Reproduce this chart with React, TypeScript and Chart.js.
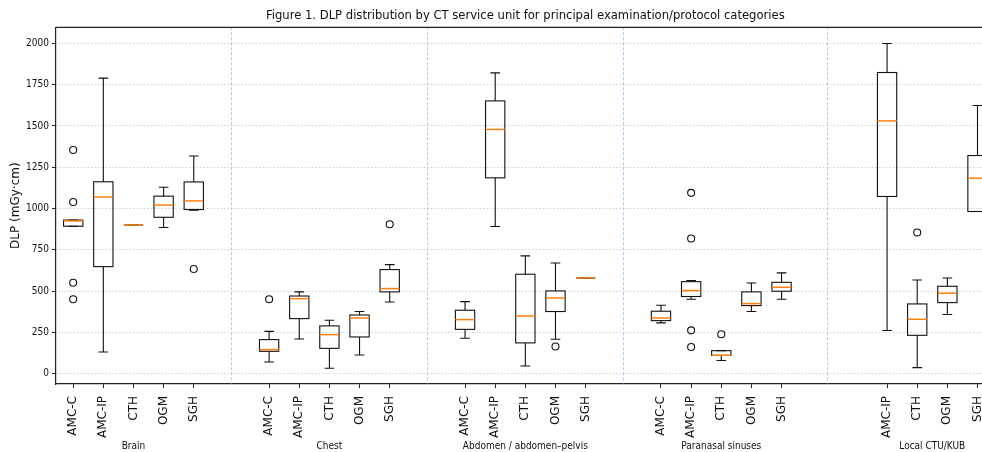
import React, { useEffect, useRef } from "react";
import { Chart, registerables } from "chart.js";

Chart.register(...registerables);

const TITLE =
  "Figure 1. DLP distribution by CT service unit for principal examination/protocol categories";
const Y_TITLE = "DLP (mGy·cm)";
const GROUPS = ["Brain", "Chest", "Abdomen / abdomen–pelvis", "Paranasal sinuses", "Local CTU/KUB"];
const UNITS = ["AMC-C", "AMC-IP", "CTH", "OGM", "SGH"];

// one entry per box
const BOX_GROUP = [0, 0, 0, 0, 0, 1, 1, 1, 1, 1, 2, 2, 2, 2, 2, 3, 3, 3, 3, 3, 4, 4, 4, 4];
const BOX_UNIT = [0, 1, 2, 3, 4, 0, 1, 2, 3, 4, 0, 1, 2, 3, 4, 0, 1, 2, 3, 4, 1, 2, 3, 4];
const WHISKER_LO = [893, 131, 900, 885, 990, 70, 210, 32, 113, 434, 214, 891, 46, 208, 580, 307, 450, 79, 376, 450, 261, 36, 358, 982];
const Q1 = [893, 648, 900, 947, 994, 135, 333, 153, 222, 495, 268, 1186, 186, 376, 580, 321, 467, 110, 412, 499, 1073, 232, 430, 982];
const MEDIAN = [925, 1070, 900, 1021, 1046, 145, 454, 236, 337, 515, 327, 1479, 349, 458, 580, 337, 503, 111, 424, 523, 1531, 329, 487, 1184];
const Q3 = [930, 1162, 900, 1075, 1161, 206, 470, 289, 355, 630, 384, 1652, 602, 501, 580, 378, 557, 139, 495, 553, 1824, 422, 529, 1321];
const WHISKER_HI = [930, 1790, 900, 1129, 1318, 256, 495, 323, 376, 660, 436, 1822, 713, 670, 580, 414, 564, 139, 549, 610, 2000, 567, 579, 1624];
const OUTLIERS: number[][] = [
  [1355, 1040, 550, 450], [], [], [], [634],
  [450], [], [], [], [905],
  [], [], [], [164], [],
  [], [1095, 818, 262, 161], [238], [], [],
  [], [855], [], [],
];

const Y_TICKS = [0, 250, 500, 750, 1000, 1250, 1500, 1750, 2000];
const Y_MIN = -63;
const Y_MAX = 2098;
const GROUP_STEP = 6.5;
const DIVIDERS = [5.25, 11.75, 18.25, 25.0];
const X_MIN = -0.57;
const X_MAX = 30.57;

const POSITIONS = BOX_GROUP.map((g, i) => g * GROUP_STEP + BOX_UNIT[i]);

const COND = '"DejaVu Sans Condensed", "DejaVu Sans", sans-serif';
const NORMAL = '"DejaVu Sans", sans-serif';

const boxPlugin = {
  id: "boxplotDraw",
  beforeDatasetsDraw(chart: any) {
    const { ctx, chartArea, scales } = chart;
    const xs = scales.x;
    ctx.save();
    ctx.strokeStyle = "rgba(110,170,220,0.75)";
    ctx.lineWidth = 0.8;
    ctx.setLineDash([3, 2]);
    DIVIDERS.forEach((d) => {
      const px = Math.round(xs.getPixelForValue(d)) + 0.5;
      ctx.beginPath();
      ctx.moveTo(px, chartArea.top);
      ctx.lineTo(px, chartArea.bottom);
      ctx.stroke();
    });
    ctx.restore();
  },
  afterDatasetsDraw(chart: any) {
    const { ctx, scales } = chart;
    const xs = scales.x;
    const ys = scales.y;
    const half = 0.32;
    const cap = 0.16;
    ctx.save();
    ctx.setLineDash([]);
    POSITIONS.forEach((pos, i) => {
      const xc = xs.getPixelForValue(pos);
      const xl = xs.getPixelForValue(pos - half);
      const xr = xs.getPixelForValue(pos + half);
      const cl = xs.getPixelForValue(pos - cap);
      const cr = xs.getPixelForValue(pos + cap);
      const yLo = ys.getPixelForValue(WHISKER_LO[i]);
      const yQ1 = ys.getPixelForValue(Q1[i]);
      const yMed = ys.getPixelForValue(MEDIAN[i]);
      const yQ3 = ys.getPixelForValue(Q3[i]);
      const yHi = ys.getPixelForValue(WHISKER_HI[i]);
      ctx.strokeStyle = "#111";
      ctx.lineWidth = 1.1;
      ctx.beginPath();
      ctx.moveTo(xc, yQ1);
      ctx.lineTo(xc, yLo);
      ctx.moveTo(xc, yQ3);
      ctx.lineTo(xc, yHi);
      ctx.moveTo(cl, yLo);
      ctx.lineTo(cr, yLo);
      ctx.moveTo(cl, yHi);
      ctx.lineTo(cr, yHi);
      ctx.stroke();
      ctx.strokeRect(xl, yQ3, xr - xl, yQ1 - yQ3);
      ctx.strokeStyle = "#ff7f0e";
      ctx.lineWidth = 1.5;
      ctx.beginPath();
      ctx.moveTo(xl, yMed);
      ctx.lineTo(xr, yMed);
      ctx.stroke();
    });
    ctx.restore();
  },
  afterDraw(chart: any) {
    const { ctx, chartArea, scales } = chart;
    const xs = scales.x;
    ctx.save();
    ctx.strokeStyle = "#222";
    ctx.lineWidth = 1.2;
    ctx.beginPath();
    ctx.moveTo(chartArea.left, chartArea.top);
    ctx.lineTo(chartArea.right, chartArea.top);
    ctx.stroke();
    ctx.fillStyle = "#111";
    ctx.font = `10px ${COND}`;
    ctx.textAlign = "center";
    ctx.textBaseline = "middle";
    GROUPS.forEach((g, gi) => {
      const ps = POSITIONS.filter((_, i) => BOX_GROUP[i] === gi);
      const mid = (Math.min(...ps) + Math.max(...ps)) / 2;
      ctx.fillText(g, xs.getPixelForValue(mid), 446);
    });
    ctx.restore();
  },
};

export default function App() {
  const ref = useRef<HTMLCanvasElement>(null);
  useEffect(() => {
    document.body.style.margin = "0";
    const points: { x: number; y: number }[] = [];
    OUTLIERS.forEach((arr, i) => arr.forEach((v) => points.push({ x: POSITIONS[i], y: v })));
    const chart = new Chart(ref.current as HTMLCanvasElement, {
      type: "scatter",
      data: {
        datasets: [
          {
            data: points,
            pointRadius: 3.5,
            pointHoverRadius: 3.5,
            pointStyle: "circle",
            borderColor: "#111",
            backgroundColor: "rgba(0,0,0,0)",
            borderWidth: 1.1,
          },
        ],
      },
      options: {
        animation: false,
        responsive: false,
        events: [],
        layout: { padding: { left: 0, right: 5, top: 0, bottom: 0 } },
        plugins: {
          legend: { display: false },
          tooltip: { enabled: false },
          title: {
            display: true,
            fullSize: false,
            text: TITLE,
            color: "#111",
            font: { family: COND, size: 12.9, weight: "normal" },
            padding: { top: 8, bottom: 3.8 },
          },
        },
        scales: {
          x: {
            type: "linear",
            min: X_MIN,
            max: X_MAX,
            afterBuildTicks: (s: any) => {
              s.ticks = POSITIONS.map((v) => ({ value: v }));
            },
            afterFit: (s: any) => {
              s.height = 68;
            },
            ticks: {
              autoSkip: false,
              minRotation: 90,
              maxRotation: 90,
              padding: 8,
              color: "#111",
              font: { family: NORMAL, size: 12 },
              callback: (_v: any, i: number) => UNITS[BOX_UNIT[i]],
            },
            grid: { drawOnChartArea: false, tickLength: 4, tickColor: "#222", tickWidth: 1 },
            border: { color: "#222", width: 1.2 },
          },
          y: {
            type: "linear",
            min: Y_MIN,
            max: Y_MAX,
            afterBuildTicks: (s: any) => {
              s.ticks = Y_TICKS.map((v) => ({ value: v }));
            },
            afterFit: (s: any) => {
              s.width = 56;
            },
            ticks: {
              padding: 3,
              color: "#111",
              font: { family: COND, size: 10 },
              callback: (v: any) => String(v),
            },
            grid: {
              color: "#c4c4c4",
              lineWidth: 0.8,
              tickLength: 4,
              tickColor: "#222",
              tickWidth: 1,
              tickBorderDash: [],
            },
            border: { color: "#222", width: 1.2, dash: [1.5, 2] },
            title: {
              display: true,
              text: Y_TITLE,
              color: "#111",
              font: { family: NORMAL, size: 12 },
              padding: { top: 9, bottom: 0 },
            },
          },
        },
      },
      plugins: [boxPlugin],
    } as any);
    return () => chart.destroy();
  }, []);
  return (
    <div style={{ position: "fixed", left: 0, top: 0, width: 982, height: 452, overflow: "hidden", background: "#fff" }}>
      <canvas ref={ref} width={1000} height={452} />
    </div>
  );
}
